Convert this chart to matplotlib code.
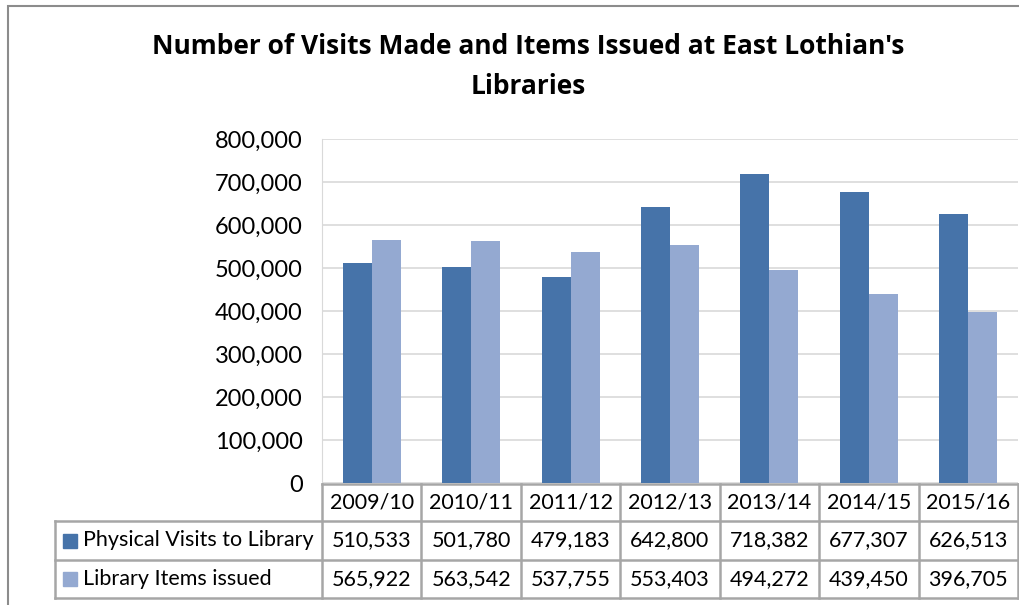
import matplotlib
matplotlib.use('Agg')
import matplotlib.pyplot as plt
from matplotlib.patches import Rectangle
from matplotlib.lines import Line2D
import numpy as np

years = ['2009/10', '2010/11', '2011/12', '2012/13', '2013/14', '2014/15', '2015/16']
visits = [510533, 501780, 479183, 642800, 718382, 677307, 626513]
issued = [565922, 563542, 537755, 553403, 494272, 439450, 396705]
series_names = ['Physical Visits to Library', 'Library Items issued']
title_lines = ["Number of Visits Made and Items Issued at East Lothian's", "Libraries"]

c_dark = '#4673A9'
c_light = '#94A9D1'
grid_c = '#D9D9D9'
tbl_c = '#A6A6A6'

plt.rcParams['font.family'] = ['Lato', 'DejaVu Sans']

W, H = 1020, 605
fig = plt.figure(figsize=(W / 100, H / 100), dpi=100)

def fx(px):
    return px / W

def fy(py):
    return 1 - py / H

# chart border
fig.patches.append(Rectangle((fx(8), fy(640)), fx(1100) - fx(8), fy(6) - fy(640),
                             transform=fig.transFigure, fill=False, ec='#8C8C8C', lw=1.5))

x0, x1, y_top, y_zero = 322, 1018, 139, 483
ax = fig.add_axes([fx(x0), fy(y_zero), fx(x1) - fx(x0), fy(y_top) - fy(y_zero)])
ax.set_xlim(-0.5, len(years) - 0.5)
ax.set_ylim(0, 800000)
x = np.arange(len(years))
bw = 0.292
ax.bar(x - bw / 2, visits, bw, color=c_dark, zorder=3)
ax.bar(x + bw / 2, issued, bw, color=c_light, zorder=3)
ax.set_yticks(np.arange(0, 800001, 100000))
ax.yaxis.grid(True, color=grid_c, lw=1.2, zorder=0)
ax.set_xticks([])
ax.tick_params(axis='y', length=0, pad=14, labelsize=17)
ax.set_yticklabels(['{:,}'.format(v) for v in range(0, 800001, 100000)])
for s in ['top', 'right', 'bottom']:
    ax.spines[s].set_visible(False)
ax.spines['left'].set_color(grid_c)

fig.text(fx(528), fy(47), title_lines[0], ha='center', va='center', fontsize=19,
         fontweight='bold', family=['Open Sans', 'DejaVu Sans'])
fig.text(fx(528), fy(86), title_lines[1], ha='center', va='center', fontsize=19,
         fontweight='bold', family=['Open Sans', 'DejaVu Sans'])

# data table
col_w = (x1 - x0) / len(years)
rows_y = [484, 521, 560, 598]
lab_x0 = 55

def hline(xa, xb, y):
    fig.add_artist(Line2D([fx(xa), fx(xb)], [fy(y), fy(y)], color=tbl_c, lw=1.8))

def vline(x_, ya, yb):
    fig.add_artist(Line2D([fx(x_), fx(x_)], [fy(ya), fy(yb)], color=tbl_c, lw=1.8))

hline(x0, x1, rows_y[0])
for y in rows_y[1:]:
    hline(lab_x0, x1, y)
for i in range(len(years) + 1):
    vline(x0 + i * col_w, rows_y[0], rows_y[3])
vline(lab_x0, rows_y[1], rows_y[3])

fs = 15.5
for i, yr in enumerate(years):
    cx = x0 + (i + 0.5) * col_w
    fig.text(fx(cx), fy((rows_y[0] + rows_y[1]) / 2), yr, ha='center', va='center', fontsize=fs)
    fig.text(fx(cx), fy((rows_y[1] + rows_y[2]) / 2), '{:,}'.format(visits[i]), ha='center', va='center', fontsize=fs)
    fig.text(fx(cx), fy((rows_y[2] + rows_y[3]) / 2), '{:,}'.format(issued[i]), ha='center', va='center', fontsize=fs)

for k, (name, c) in enumerate(zip(series_names, [c_dark, c_light])):
    cy = (rows_y[k + 1] + rows_y[k + 2]) / 2
    fig.patches.append(Rectangle((fx(63), fy(cy + 7)), fx(14), fy(cy - 7) - fy(cy + 7),
                                 transform=fig.transFigure, color=c))
    fig.text(fx(83), fy(cy), name, ha='left', va='center', fontsize=fs)

fig.savefig('out.png', dpi=100)
